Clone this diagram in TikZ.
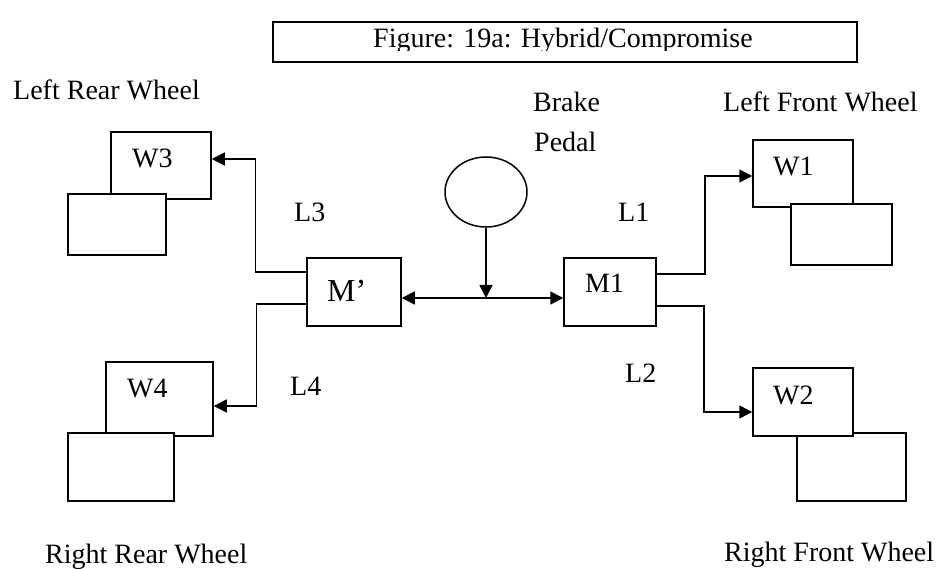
\documentclass[tikz,border=0pt]{standalone}
\usepackage{fontspec}
\setmainfont{Liberation Serif}
\usetikzlibrary{arrows.meta,shapes.geometric}
\begin{document}
\begin{tikzpicture}[x=1pt,y=-1pt,
  bx/.style={draw,line width=1.5pt,fill=white,inner sep=0pt},
  txt/.style={inner sep=0pt,anchor=base west,font=\fontsize{28}{34}\selectfont},
  conn/.style={line width=1.5pt},
  arr/.style={line width=1.5pt,-{Triangle[length=13pt,width=13pt]}},
  arrr/.style={line width=1.5pt,{Triangle[length=13pt,width=13pt]}-{Triangle[length=13pt,width=13pt]}}]
\useasboundingbox (0,0) rectangle (938,569);

% title
\node[bx,minimum width=584pt,minimum height=40pt] (title) at (565,42) {};
\begin{scope}
\clip (273,22) rectangle (857,51);
\node[inner sep=0pt,anchor=base,font=\fontsize{28}{34}\selectfont] (titletxt) at (563,48) {Figure: 19a: Hybrid/Compromise};
\end{scope}

% master cylinders
\node[bx,minimum width=94pt,minimum height=68pt] (mp) at (354,292) {};
\node[bx,minimum width=92pt,minimum height=68pt] (m1) at (610,292) {};
\node[inner sep=0pt,anchor=base west,font=\fontsize{32}{38}\selectfont] (mptxt) at (327,302) {M’};
\node[txt] (m1txt) at (585,293) {M1};

% brake pedal
\node[draw,ellipse,line width=1.5pt,inner sep=0pt,minimum width=82pt,minimum height=70pt] (bp) at (486,192) {};
\node[txt] (brake) at (533,112) {Brake};
\node[txt] (pedal) at (534,152) {Pedal};

% wheels
\node[bx,minimum width=100pt,minimum height=67pt] (w3) at (161,165.5) {};
\node[bx,minimum width=98pt,minimum height=61pt] (w3b) at (117,224.5) {};
\node[bx,minimum width=107pt,minimum height=74pt] (w4) at (159.5,399) {};
\node[bx,minimum width=106pt,minimum height=68pt] (w4b) at (121,467) {};
\node[bx,minimum width=100pt,minimum height=67pt] (w1) at (803,173.5) {};
\node[bx,minimum width=101pt,minimum height=61pt] (w1b) at (841.5,234.5) {};
\node[bx,minimum width=109pt,minimum height=68pt] (w2b) at (851.5,467) {};
\node[bx,minimum width=100pt,minimum height=68pt] (w2) at (803,402) {};

\node[txt] (w3txt) at (132,168) {W3};
\node[txt] (w4txt) at (127,398) {W4};
\node[txt] (w1txt) at (773,176) {W1};
\node[txt] (w2txt) at (773,405) {W2};

% labels
\node[txt] (lrw) at (13,100) {Left Rear Wheel};
\node[txt] (lfw) at (723,112) {Left Front Wheel};
\node[txt] (rrw) at (45,563) {Right Rear Wheel};
\node[txt] (rfw) at (724,561) {Right Front Wheel};
\node[txt] (l3) at (294,222) {L3};
\node[txt] (l1) at (618,222) {L1};
\node[txt] (l4) at (290,396) {L4};
\node[txt] (l2) at (625,383) {L2};

% connectors
\coordinate (hl) at ([yshift=-6pt]mp.east);
\draw[arrr] (hl) -- (hl -| m1.west);
\draw[arr] (bp.south) -- (bp.south |- hl);
\draw[arr] ([yshift=20pt]mp.west) -- ++(-51,0) |- ([yshift=6.5pt]w3.east);
\draw[arr] ([yshift=-12pt]mp.west) -- ++(-50,0) |- ([yshift=-7pt]w4.east);
\draw[arr] ([yshift=18pt]m1.east) -- ++(48,0) |- ([yshift=-2.5pt]w1.west);
\draw[arr] ([yshift=-14pt]m1.east) -- ++(47,0) |- ([yshift=-10pt]w2.west);
\end{tikzpicture}
\end{document}
